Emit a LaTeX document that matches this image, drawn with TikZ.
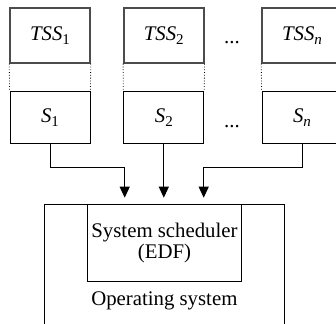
\documentclass[tikz,border=0pt]{standalone}
\usepackage{fontspec}
\setmainfont{Liberation Serif}
\usetikzlibrary{arrows.meta}
\newcommand{\subidx}[1]{\raisebox{-0.4ex}{\fontsize{7.5}{7.5}\selectfont #1}}

\begin{document}
\begin{tikzpicture}[x=0.5pt, y=-0.5pt, font=\fontsize{10.4}{10.4}\selectfont,
		taskbox/.style={draw=black!70, line width=0.7pt, minimum width=40pt, minimum height=27.5pt, inner sep=0pt},
		servbox/.style={draw, line width=0.5pt, minimum width=40pt, minimum height=26pt, inner sep=0pt},
		feed/.style={line width=0.5pt, -{Triangle[width=5pt,length=5.5pt]}}]
			%%%%% START %%%%%
			
			\useasboundingbox (0, 0) rectangle (336, 323);
			
			\node[taskbox] (tss1) at (50, 35.5) {\textit{TSS}\subidx{1}};
			\node[servbox] (s1) at (50, 117.7) {\textit{S}\subidx{1}};
			\draw[densely dotted] (tss1.south west) -- (s1.north west);
			\draw[densely dotted] (tss1.south east) -- (s1.north east);
			
			\node[taskbox] (tss2) at (163.8, 35.5) {\textit{TSS}\subidx{2}};
			\node[servbox] (s2) at (163.8, 117.7) {\textit{S}\subidx{2}};
			\draw[densely dotted] (tss2.south west) -- (s2.north west);
			\draw[densely dotted] (tss2.south east) -- (s2.north east);
			
			\node[anchor=base] (dotsA) at (232, 43.5) {...};
			\node[anchor=base] (dotsB) at (232, 127.5) {...};
			
			\node[taskbox] (tssn) at (302, 35.5) {\textit{TSS}\subidx{\textit{n}}};
			\node[servbox] (sn) at (302, 117.7) {\textit{S}\subidx{\textit{n}}};
			\draw[densely dotted] (tssn.south west) -- (sn.north west);
			\draw[densely dotted] (tssn.south east) -- (sn.north east);
			
			\node[draw, line width=0.5pt, minimum width=119.65pt, minimum height=67.85pt, inner sep=0pt] (os) at (164.35, 272.15) {};
			\node[draw, line width=0.5pt, minimum width=76.8pt, minimum height=38.5pt, inner sep=0pt, align=center] (sched) at (164.5, 242.8) {System scheduler\\(EDF)};
			\node (oslabel) at (164.35, 301) {Operating system};
			
			\coordinate (bend1) at (124.7, 167.7);
			\coordinate (in1) at (124.7, 197.7);
			\coordinate (in2) at (163.8, 197.7);
			\coordinate (bendn) at (203.7, 167.7);
			\coordinate (inn) at (203.7, 197.7);
			
			\draw[feed] (s1.south) |- (bend1) -- (in1);
			\draw[feed] (s2.south) -- (in2);
			\draw[feed] (sn.south) |- (bendn) -- (inn);
			
			%%%%% END %%%%%
\end{tikzpicture}
\end{document}
